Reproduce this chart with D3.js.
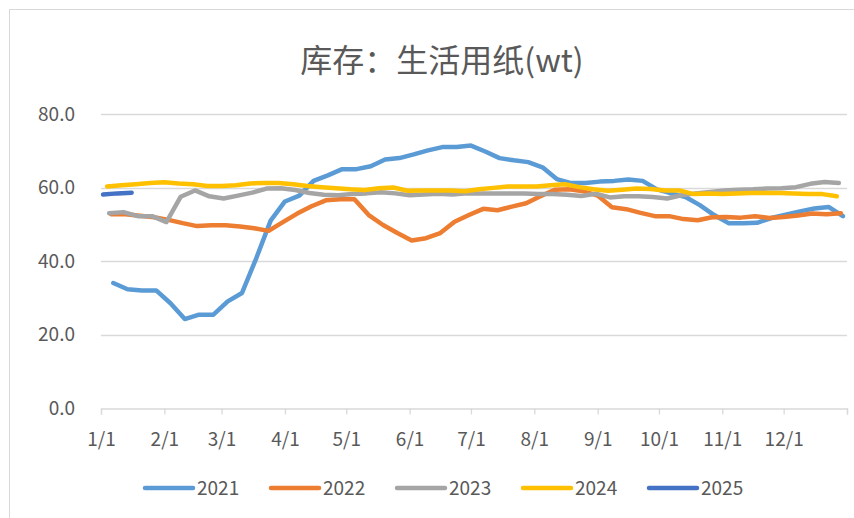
<!DOCTYPE html>
<html>
<head>
<meta charset="utf-8">
<script src="https://cdn.jsdelivr.net/npm/d3@7"></script>
<style>
  body { margin: 0; background: #fff; }
  svg text { font-family: "Noto Sans CJK SC", "Noto Sans", sans-serif; fill: #595959; }
</style>
</head>
<body>
<div id="chart"></div>
<script>
// weekly inventory, 10k tonnes
var seriesNames = ["2021", "2022", "2023", "2024", "2025"];
var seriesColors = ["#5B9BD5", "#ED7D31", "#A5A5A5", "#FFC000", "#4472C4"];
// first week of each year (month-day)
var startDates = ["01-07", "01-06", "01-05", "01-04", "01-02"];

var v2021 = [34.0, 32.3, 32.0, 32.0, 28.5, 24.2, 25.4, 25.4, 29.0, 31.3,
             40.8, 51.0, 56.2, 57.8, 61.8, 63.3, 65.0, 65.0, 65.8, 67.6,
             68.0, 69.0, 70.1, 71.0, 71.0, 71.4, 69.8, 68.0, 67.4, 66.9,
             65.5, 62.3, 61.2, 61.2, 61.6, 61.8, 62.2, 61.8, 59.5, 58.4,
             57.4, 55.2, 52.5, 50.3, 50.3, 50.4, 51.7, 52.6, 53.5, 54.3,
             54.7, 52.2];
var v2022 = [52.7, 52.7, 52.3, 51.9, 51.2, 50.3, 49.5, 49.7, 49.7, 49.4,
             48.9, 48.2, 50.6, 52.9, 54.9, 56.5, 56.8, 56.8, 52.5, 49.8,
             47.6, 45.6, 46.2, 47.6, 50.7, 52.5, 54.2, 53.8, 54.8, 55.7,
             57.6, 59.4, 59.5, 59.0, 57.8, 54.6, 54.1, 53.1, 52.2, 52.2,
             51.4, 51.1, 51.9, 52.0, 51.8, 52.2, 51.7, 52.0, 52.4, 52.9,
             52.7, 53.0];
var v2023 = [53.0, 53.3, 52.2, 52.2, 50.6, 57.5, 59.2, 57.6, 57.0, 57.8,
             58.6, 59.7, 59.8, 59.3, 58.5, 58.0, 57.9, 58.2, 58.4, 58.7,
             58.4, 57.9, 58.1, 58.3, 58.1, 58.4, 58.4, 58.4, 58.4, 58.4,
             58.2, 58.2, 58.0, 57.7, 58.3, 57.3, 57.6, 57.6, 57.4, 57.0,
             57.9, 58.4, 58.8, 59.2, 59.4, 59.5, 59.7, 59.8, 60.1, 61.0,
             61.5, 61.2];
var v2024 = [60.3, 60.6, 60.9, 61.2, 61.4, 61.1, 60.9, 60.4, 60.4, 60.6,
             61.1, 61.2, 61.2, 60.9, 60.4, 60.1, 59.8, 59.5, 59.3, 59.8,
             60.0, 59.1, 59.2, 59.2, 59.2, 59.0, 59.5, 59.9, 60.3, 60.3,
             60.3, 60.6, 60.9, 60.1, 59.5, 59.1, 59.4, 59.7, 59.6, 59.2,
             59.2, 58.2, 58.4, 58.2, 58.4, 58.5, 58.5, 58.5, 58.4, 58.2,
             58.2, 57.6];
var v2025 = [58.1, 58.4, 58.6];
var seriesValues = [v2021, v2022, v2023, v2024, v2025];

var monthLabels = ["1/1", "2/1", "3/1", "4/1", "5/1", "6/1", "7/1", "8/1", "9/1", "10/1", "11/1", "12/1"];
var yTicks = [0, 20, 40, 60, 80];

var W = 854, H = 518;
var svg = d3.select("#chart").append("svg").attr("width", W).attr("height", H);

// chart frame (the source is a cropped office chart)
svg.append("rect").attr("x", 9.5).attr("y", 9.5).attr("width", 900).attr("height", 600)
    .attr("fill", "#fff").attr("stroke", "#d9d9d9");

var baseYear = 2021;
var parseMD = d3.timeParse("%Y-%m-%d");
var x = d3.scaleTime()
    .domain([new Date(baseYear, 0, 1), new Date(baseYear + 1, 0, 1)])
    .range([101, 847]);
var y = d3.scaleLinear().domain([0, 80]).range([408, 114]);

// title
svg.append("text").attr("x", 442).attr("y", 72).attr("text-anchor", "middle")
    .style("font-size", "32px").text("库存：生活用纸(wt)");

// gridlines
svg.append("g").selectAll("line").data(yTicks.filter(function (d) { return d > 0; }))
    .enter().append("line")
    .attr("x1", 101).attr("x2", 847)
    .attr("y1", function (d) { return Math.round(y(d)) + 0.5; })
    .attr("y2", function (d) { return Math.round(y(d)) + 0.5; })
    .attr("stroke", "#d9d9d9").attr("stroke-width", 1.3);

// y labels
svg.append("g").selectAll("text").data(yTicks).enter().append("text")
    .attr("x", 75).attr("y", function (d) { return y(d) + 6.5; })
    .attr("text-anchor", "end").style("font-size", "19px")
    .text(function (d) { return d3.format(".1f")(d); });

// x axis
var monthStarts = d3.timeMonth.range(new Date(baseYear, 0, 1), new Date(baseYear + 1, 0, 2));
var xAxis = d3.axisBottom(x).tickValues(monthStarts).tickSize(6)
    .tickFormat(function (d, i) { return monthLabels[i] || ""; });
var gx = svg.append("g").attr("transform", "translate(0," + (Math.round(y(0)) + 0.5) + ")").call(xAxis);
gx.select(".domain").attr("stroke", "#d9d9d9").attr("stroke-width", 1.3);
gx.selectAll(".tick line").attr("stroke", "#d9d9d9").attr("stroke-width", 1.3);
gx.selectAll(".tick text").attr("dy", 0).attr("y", 37)
    .style("font-size", "19px").style("fill", "#595959")
    .style("font-family", "\"Noto Sans CJK SC\", sans-serif");

// lines
var line = d3.line()
    .x(function (d) { return x(d.date); })
    .y(function (d) { return y(d.value); });

seriesValues.forEach(function (vals, k) {
    var start = parseMD(baseYear + "-" + startDates[k]);
    var pts = vals.map(function (v, i) {
        return { date: d3.timeDay.offset(start, i * 7), value: v };
    });
    svg.append("path").datum(pts)
        .attr("fill", "none")
        .attr("stroke", seriesColors[k])
        .attr("stroke-width", 4.5)
        .attr("stroke-linejoin", "round")
        .attr("stroke-linecap", "round")
        .attr("d", line);
});

// legend
var legend = svg.append("g").selectAll("g").data(seriesNames).enter().append("g")
    .attr("transform", function (d, i) { return "translate(" + (145 + i * 126) + ",488)"; });
legend.append("line").attr("x1", 0).attr("x2", 48).attr("y1", 0).attr("y2", 0)
    .attr("stroke", function (d, i) { return seriesColors[i]; })
    .attr("stroke-width", 4.5).attr("stroke-linecap", "round");
legend.append("text").attr("x", 52).attr("y", 7).style("font-size", "19px")
    .text(function (d) { return d; });
</script>
</body>
</html>
